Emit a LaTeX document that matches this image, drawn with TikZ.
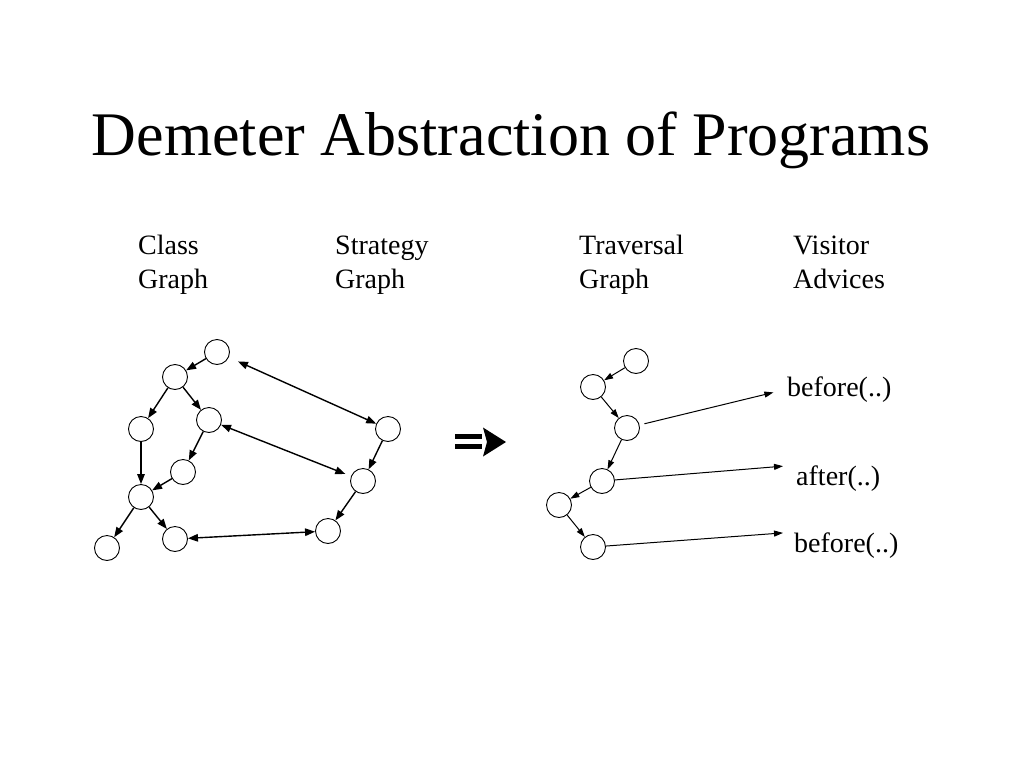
\documentclass[tikz,border=0pt]{standalone}
\usepackage{fontspec}
\setmainfont{Liberation Serif}
\usetikzlibrary{arrows.meta,positioning}

\begin{document}
\begin{tikzpicture}[
    x=1pt, y=-1pt,
    vertex/.style={circle, draw, line width=0.9pt, minimum size=25pt, inner sep=0pt},
    heading/.style={align=left, anchor=base west, inner sep=0pt, font=\fontsize{28}{34}\selectfont},
    advice/.style={anchor=base west, inner sep=0pt, font=\fontsize{28}{32}\selectfont},
    arrow/.style={-{Triangle[length=10pt,width=7.5pt]}, line width=1.4pt},
    both/.style={{Triangle[length=10pt,width=7.5pt]}-{Triangle[length=10pt,width=7.5pt]}, line width=1.4pt},
    callarrow/.style={-{Triangle[length=9pt,width=6pt]}, line width=1pt}
]
    \useasboundingbox (0,0) rectangle (1024,768);

    \node[anchor=base, inner sep=0pt, font=\fontsize{62}{70}\selectfont] (title) at (511,155) {Demeter Abstraction of Programs};

    \node[heading] (hclass) at (138,288) {Class\\Graph};
    \node[heading] (hstrat) at (335,288) {Strategy\\Graph};
    \node[heading] (htrav) at (579,288) {Traversal\\Graph};
    \node[heading] (hvis) at (793,288) {Visitor\\Advices};

    % class graph
    \node[vertex] (c1) at (217,352) {};
    \node[vertex] (c2) at (175,377) {};
    \node[vertex] (c3) at (141,429) {};
    \node[vertex] (c4) at (209,420) {};
    \node[vertex] (c5) at (183,472) {};
    \node[vertex] (c6) at (141,497) {};
    \node[vertex] (c7) at (107,548) {};
    \node[vertex] (c8) at (175,539) {};

    \draw[arrow] (c1) -- (c2);
    \draw[arrow] (c2) -- (c3);
    \draw[arrow] (c2) -- (c4);
    \draw[arrow] (c4) -- (c5);
    \draw[arrow] (c5) -- (c6);
    \draw[arrow] (c3) -- (c6);
    \draw[arrow] (c6) -- (c7);
    \draw[arrow] (c6) -- (c8);

    % strategy graph
    \node[vertex] (s1) at (388,429) {};
    \node[vertex] (s2) at (363,481) {};
    \node[vertex] (s3) at (328,531) {};

    \draw[arrow] (s1) -- (s2);
    \draw[arrow] (s2) -- (s3);

    \draw[both, shorten <=10pt] (c1) -- (s1);
    \draw[both, shorten >=6pt] (c4) -- (s2);
    \draw[both] (c8) -- (s3);

    % big arrow
    \fill (455,434.3) rectangle (482,439.3);
    \fill (455,444.3) rectangle (482,449.3);
    \fill (483,427.5) -- (506,442) -- (483,456.5) -- (487,442) -- cycle;

    % traversal graph
    \node[vertex] (t1) at (636,361) {};
    \node[vertex] (t2) at (593,387) {};
    \node[vertex] (t3) at (627,428) {};
    \node[vertex] (t4) at (602,481) {};
    \node[vertex] (t5) at (559,505) {};
    \node[vertex] (t6) at (593,547) {};

    \draw[callarrow] (t1) -- (t2);
    \draw[callarrow] (t2) -- (t3);
    \draw[callarrow] (t3) -- (t4);
    \draw[callarrow] (t4) -- (t5);
    \draw[callarrow] (t5) -- (t6);

    % visitor advices
    \node[advice] (adv1) at (787,396) {before(..)};
    \node[advice] (adv2) at (796,485) {after(..)};
    \node[advice] (adv3) at (794,552) {before(..)};

    \draw[callarrow, shorten <=5pt, shorten >=14pt] (t3) -- (adv1.west);
    \draw[callarrow, shorten >=13pt] (t4) -- (adv2.north west);
    \draw[callarrow, shorten >=11pt] (t6) -- (adv3.north west);
\end{tikzpicture}
\end{document}
